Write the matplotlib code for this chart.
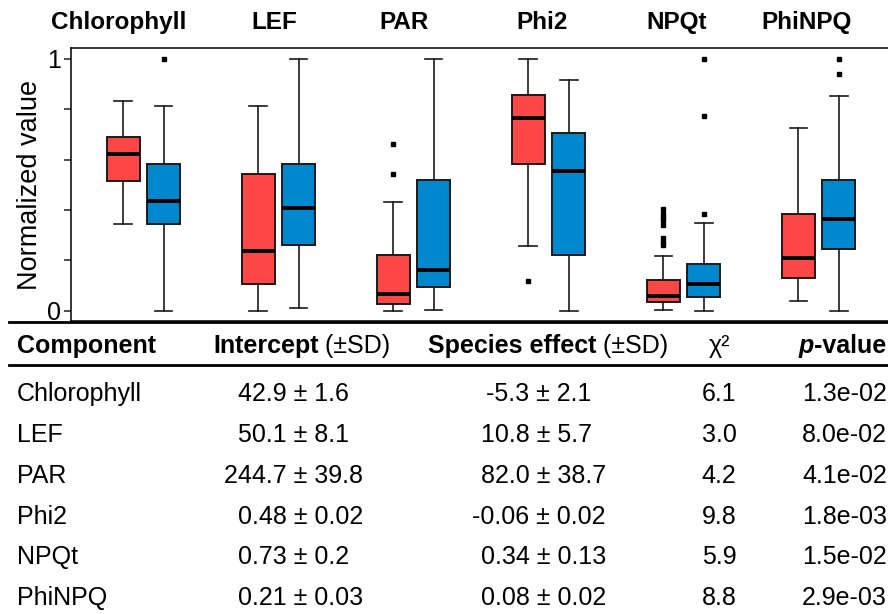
import matplotlib
matplotlib.use("Agg")
import matplotlib.pyplot as plt
from matplotlib.lines import Line2D

plt.rcParams['font.family'] = ['Liberation Sans', 'DejaVu Sans']

# Box summaries (normalized values)
components = ['Chlorophyll', 'LEF', 'PAR', 'Phi2', 'NPQt', 'PhiNPQ']

# species 1 (red)
red_whislo = [0.343, 0.0, 0.0, 0.258, 0.004, 0.039]
red_q1 = [0.515, 0.108, 0.026, 0.582, 0.037, 0.129]
red_med = [0.622, 0.236, 0.067, 0.763, 0.060, 0.208]
red_q3 = [0.689, 0.542, 0.221, 0.857, 0.122, 0.386]
red_whishi = [0.831, 0.812, 0.431, 1.0, 0.217, 0.726]
red_fliers = [[], [], [0.663, 0.544], [0.120],
              [0.405, 0.386, 0.372, 0.359, 0.339, 0.287, 0.274, 0.261], []]

# species 2 (blue)
blue_whislo = [0.0, 0.011, 0.003, 0.0, 0.0, 0.0]
blue_q1 = [0.343, 0.261, 0.094, 0.222, 0.054, 0.247]
blue_med = [0.437, 0.407, 0.162, 0.554, 0.107, 0.366]
blue_q3 = [0.581, 0.584, 0.520, 0.705, 0.186, 0.517]
blue_whishi = [0.814, 1.0, 1.0, 0.917, 0.350, 0.853]
blue_fliers = [[1.0], [], [], [], [1.0, 0.774, 0.386], [1.0, 0.938]]

# Table contents
intercept_est = ['42.9', '50.1', '244.7', '0.48', '0.73', '0.21']
intercept_sd = ['1.6', '8.1', '39.8', '0.02', '0.2', '0.03']
species_est = ['-5.3', '10.8', '82.0', '-0.06', '0.34', '0.08']
species_sd = ['2.1', '5.7', '38.7', '0.02', '0.13', '0.02']
chi2 = ['6.1', '3.0', '4.2', '9.8', '5.9', '8.8']
pvalues = ['1.3e-02', '8.0e-02', '4.1e-02', '1.8e-03', '1.5e-02', '2.9e-03']

W, H = 888, 614
fig = plt.figure(figsize=(W / 100, H / 100), dpi=100)


def fx(x):
    return x / W


def fy(y):
    return 1 - y / H


# axes box in pixels: left 71, top 48, right 888, bottom 321
ax = fig.add_axes([fx(71), fy(321), fx(888) - fx(71), fy(48) - fy(321)])

RED = '#FD4747'
BLUE = '#0088CF'
off = 0.15
bw = 0.245


def make_stats(lo, q1, med, q3, hi, fl):
    return [dict(whislo=a, q1=b, med=c, q3=d, whishi=e, fliers=f)
            for a, b, c, d, e, f in zip(lo, q1, med, q3, hi, fl)]


red_stats = make_stats(red_whislo, red_q1, red_med, red_q3, red_whishi, red_fliers)
blue_stats = make_stats(blue_whislo, blue_q1, blue_med, blue_q3, blue_whishi, blue_fliers)

for stats, shift, col in [(red_stats, -off, RED), (blue_stats, off, BLUE)]:
    pos = [i + shift for i in range(len(components))]
    ax.bxp(stats, positions=pos, widths=bw, patch_artist=True, manage_ticks=False,
           capwidths=0.13,
           boxprops=dict(facecolor=col, edgecolor='#1a1a1a', linewidth=1.4),
           medianprops=dict(color='black', linewidth=2.8),
           whiskerprops=dict(color='#1a1a1a', linewidth=1.2),
           capprops=dict(color='#1a1a1a', linewidth=1.2),
           flierprops=dict(marker='s', markersize=3, markerfacecolor='black',
                           markeredgecolor='black'))

ax.set_xlim(-0.536, 5.514)
ax.set_ylim(-0.040, 1.042)
ax.set_xticks([])
ax.set_yticks([0, 0.2, 0.4, 0.6, 0.8, 1.0])
ax.set_yticklabels(['0', '', '', '', '', '1'])
ax.tick_params(axis='y', length=5, width=1.1, labelsize=18, pad=2, color='#222222')
for s in ['left', 'top', 'bottom']:
    ax.spines[s].set_linewidth(1.1)
ax.spines['right'].set_visible(False)
ax.set_ylabel('Normalized value', fontsize=19.5, labelpad=3)

# group titles above the panel
title_shift = [-0.18, -0.03, -0.07, -0.05, -0.05, -0.09]
for i, name in enumerate(components):
    ax.text(i + title_shift[i], 1.092, name, transform=ax.get_xaxis_transform(),
            ha='center', va='center',
            fontsize=17.5, fontweight='bold', clip_on=False)

# table rules
for y, lw in [(322, 2.0), (365, 2.0)]:
    fig.add_artist(Line2D([fx(9), 1.0], [fy(y), fy(y)], color='black', linewidth=lw))

renderer = fig.canvas.get_renderer()


def text_width(txt, size, weight='normal', style='normal'):
    t = fig.text(0, 0, txt, fontsize=size, fontweight=weight, fontstyle=style)
    w = t.get_window_extent(renderer).width
    t.remove()
    return w


def seq_text(x, y, parts, size, right=False):
    # lay out text pieces one after another (x = left edge, or right edge if right=True)
    widths = [text_width(txt, size, wt, st) for txt, wt, st in parts]
    if right:
        x -= sum(widths)
    for (txt, weight, style), w in zip(parts, widths):
        fig.text(fx(x), fy(y), txt, fontsize=size, fontweight=weight,
                 fontstyle=style, ha='left', va='center')
        x += w


HS = 18
seq_text(17, 346, [('Component', 'bold', 'normal')], HS)
seq_text(213, 346, [('Intercept', 'bold', 'normal'), (' (±SD)', 'normal', 'normal')], HS)
seq_text(428, 346, [('Species effect', 'bold', 'normal'), (' (±SD)', 'normal', 'normal')], HS)
fig.text(fx(719), fy(346), 'χ²', fontsize=HS, ha='center', va='center')
seq_text(886, 346, [('p', 'bold', 'italic'), ('-value', 'bold', 'normal')], HS, right=True)

row_y = [394, 435, 476, 517, 557, 598]
TS = 18
for i, y in enumerate(row_y):
    fig.text(fx(17), fy(y), components[i], fontsize=TS, ha='left', va='center')
    # "est ± sd" aligned so that the ± sign ends at a fixed pixel column
    for pm_right, est, sd in [(307, intercept_est[i], intercept_sd[i]),
                              (550, species_est[i], species_sd[i])]:
        left = pm_right - text_width(est + ' ±', TS)
        fig.text(fx(left), fy(y), est + ' ± ' + sd, fontsize=TS, ha='left', va='center')
    fig.text(fx(719), fy(y), chi2[i], fontsize=TS, ha='center', va='center')
    fig.text(fx(887), fy(y), pvalues[i], fontsize=TS, ha='right', va='center')

fig.savefig('out.png', dpi=100)
